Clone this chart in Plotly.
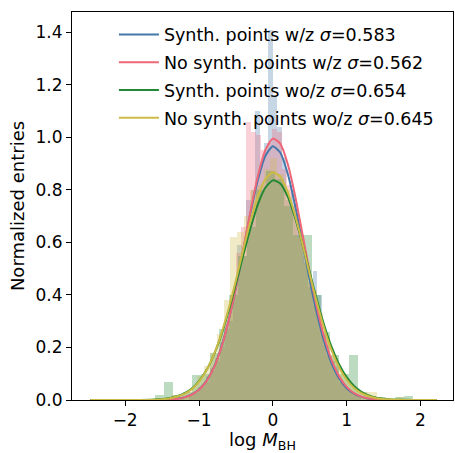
import plotly.graph_objects as go

# ---- histogram data (bin centers, widths, normalized heights) ----
blue_w = 0.06
blue_x = [-1.29, -1.23, -1.17, -1.11, -1.05, -0.99, -0.93, -0.87, -0.81, -0.75, -0.69, -0.63,
          -0.57, -0.51, -0.45, -0.39, -0.33, -0.27, -0.21, -0.15, -0.09, -0.03, 0.03, 0.09,
          0.15, 0.21, 0.27, 0.33, 0.39, 0.45, 0.51, 0.57, 0.63, 0.69, 0.75, 0.81, 0.87, 0.93,
          0.99, 1.05, 1.11, 1.17, 1.23, 1.29]
blue_h = [0.0, 0.008, 0.0, 0.018, 0.025, 0.05, 0.06, 0.09, 0.11, 0.15, 0.22, 0.28,
          0.30, 0.43, 0.59, 0.55, 0.76, 0.80, 1.10, 0.90, 0.98, 1.41, 1.16, 1.04,
          0.92, 0.76, 0.80, 0.70, 0.62, 0.52, 0.43, 0.49, 0.40, 0.25, 0.17, 0.15, 0.13, 0.07,
          0.05, 0.03, 0.02, 0.01, 0.0, 0.006]

red_w = 0.07
red_x = [-1.31, -1.24, -1.17, -1.10, -1.03, -0.96, -0.89, -0.82, -0.75, -0.68, -0.61, -0.54,
         -0.47, -0.40, -0.33, -0.26, -0.19, -0.12, -0.05, 0.02, 0.09, 0.16, 0.23, 0.30,
         0.37, 0.44, 0.51, 0.58, 0.65, 0.72, 0.79, 0.86, 0.93, 1.00, 1.07, 1.14, 1.21, 1.28, 1.35]
red_h = [0.0, 0.007, 0.01, 0.02, 0.03, 0.05, 0.07, 0.12, 0.16, 0.20, 0.30, 0.40,
         0.56, 0.66, 1.06, 1.02, 1.01, 0.95, 0.98, 1.03, 1.02, 0.88, 0.82, 0.74,
         0.64, 0.55, 0.45, 0.36, 0.29, 0.21, 0.15, 0.10, 0.07, 0.05, 0.03, 0.02, 0.01, 0.005, 0.003]

green_w = 0.125
green_x = [-1.910, -1.785, -1.660, -1.535, -1.410, -1.285, -1.160, -1.035, -0.910, -0.785,
           -0.660, -0.535, -0.410, -0.285, -0.160, -0.035, 0.090, 0.215, 0.340, 0.465,
           0.590, 0.715, 0.840, 0.965, 1.090, 1.215, 1.340, 1.465, 1.590, 1.715, 1.840, 1.965]
green_h = [0.0, 0.0, 0.0, 0.02, 0.068, 0.02, 0.03, 0.095, 0.10, 0.18,
           0.27, 0.40, 0.55, 0.66, 0.80, 0.87, 0.84, 0.74, 0.63, 0.63,
           0.40, 0.26, 0.17, 0.10, 0.17, 0.03, 0.015, 0.01, 0.005, 0.01, 0.015, 0.0]

yellow_w = 0.09
yellow_x = [-1.79, -1.70, -1.61, -1.52, -1.43, -1.34, -1.25, -1.16, -1.07, -0.98, -0.89, -0.80,
            -0.71, -0.62, -0.53, -0.44, -0.35, -0.26, -0.17, -0.08, 0.01, 0.10, 0.19, 0.28,
            0.37, 0.46, 0.55, 0.64, 0.73, 0.82, 0.91, 1.00, 1.09, 1.18, 1.27, 1.36, 1.45, 1.54,
            1.63, 1.72, 1.81, 1.90]
yellow_h = [0.0, 0.0, 0.005, 0.005, 0.01, 0.02, 0.02, 0.03, 0.05, 0.09, 0.13, 0.18,
            0.25, 0.38, 0.62, 0.64, 0.70, 0.80, 0.82, 0.88, 0.92, 0.86, 0.80, 0.72,
            0.62, 0.52, 0.42, 0.33, 0.24, 0.17, 0.12, 0.08, 0.05, 0.035, 0.03, 0.03, 0.01, 0.005,
            0.005, 0.01, 0.0, 0.0]

# ---- fitted curves (sampled) ----
curve_x = [-2.47, -2.2, -2.0, -1.8, -1.6, -1.4, -1.3, -1.2, -1.1, -1.0, -0.9, -0.8, -0.7, -0.6,
           -0.5, -0.4, -0.3, -0.2, -0.1, 0.0, 0.1, 0.2, 0.3, 0.4, 0.5, 0.6, 0.7, 0.8, 0.9,
           1.0, 1.1, 1.2, 1.3, 1.4, 1.6, 1.8, 2.0, 2.22]
blue_fit = [0, 0, 0, 0, 0.0003, 0.002, 0.005, 0.010, 0.021, 0.040, 0.073, 0.124, 0.200, 0.302,
            0.429, 0.571, 0.716, 0.841, 0.930, 0.966, 0.942, 0.863, 0.743, 0.601, 0.456, 0.326,
            0.218, 0.137, 0.081, 0.045, 0.024, 0.012, 0.005, 0.002, 0.0004, 0, 0, 0]
red_fit = [0, 0, 0, 0, 0.0003, 0.002, 0.004, 0.010, 0.020, 0.039, 0.071, 0.122, 0.197, 0.300,
           0.428, 0.574, 0.723, 0.856, 0.952, 0.995, 0.976, 0.900, 0.780, 0.634, 0.485, 0.348,
           0.235, 0.149, 0.089, 0.050, 0.026, 0.013, 0.006, 0.003, 0.0004, 0, 0, 0]
green_fit = [0, 0, 0, 0.0003, 0.002, 0.007, 0.014, 0.025, 0.043, 0.072, 0.113, 0.171, 0.246, 0.338,
             0.442, 0.552, 0.657, 0.747, 0.809, 0.836, 0.824, 0.775, 0.695, 0.595, 0.486, 0.378,
             0.281, 0.199, 0.134, 0.087, 0.053, 0.031, 0.017, 0.009, 0.002, 0.0005, 0, 0]
yellow_fit = [0, 0, 0, 0.0003, 0.001, 0.006, 0.013, 0.023, 0.041, 0.070, 0.112, 0.172, 0.250, 0.346,
              0.456, 0.573, 0.684, 0.777, 0.841, 0.867, 0.850, 0.793, 0.704, 0.596, 0.479, 0.367,
              0.268, 0.186, 0.123, 0.077, 0.046, 0.026, 0.014, 0.007, 0.002, 0.0004, 0, 0]

labels = ["Synth. points w/z <i>σ</i>=0.583",
          "No synth. points w/z <i>σ</i>=0.562",
          "Synth. points wo/z <i>σ</i>=0.654",
          "No synth. points wo/z <i>σ</i>=0.645"]
colors = ["#4477AA", "#EE6677", "#228833", "#CCBB44"]
fills = ["rgba(68,119,170,0.3)", "rgba(238,102,119,0.3)", "rgba(34,136,51,0.3)", "rgba(204,187,68,0.3)"]

hists = [(blue_x, blue_h, blue_w), (red_x, red_h, red_w), (green_x, green_h, green_w), (yellow_x, yellow_h, yellow_w)]
fits = [blue_fit, red_fit, green_fit, yellow_fit]

fig = go.Figure()
for (hx, hh, hw), fc in zip(hists, fills):
    fig.add_trace(go.Bar(x=hx, y=hh, width=hw, marker=dict(color=fc, line=dict(width=0)),
                         showlegend=False, hoverinfo="skip"))
for i, (fy, c, lab) in enumerate(zip(fits, colors, labels)):
    fig.add_trace(go.Scatter(x=curve_x, y=fy, mode="lines", name=lab,
                             line=dict(color=c, width=2, shape="spline", smoothing=0.6),
                             legendgroup=f"g{i}"))

font = "DejaVu Sans"
fig.update_layout(
    width=455, height=453,
    margin=dict(l=72, r=1, t=12, b=51),
    paper_bgcolor="white", plot_bgcolor="white",
    barmode="overlay", bargap=0,
    font=dict(family=font, size=17, color="black"),
    legend=dict(x=0.11, y=0.988, xanchor="left", yanchor="top",
                bgcolor="rgba(0,0,0,0)", borderwidth=0,
                font=dict(family=font, size=17.5, color="black"),
                tracegroupgap=2, itemwidth=40),
    xaxis=dict(range=[-2.72, 2.44], showgrid=False, zeroline=False,
               showline=True, linecolor="black", linewidth=1.1, mirror=True,
               ticks="outside", ticklen=5, tickwidth=1.1, tickcolor="black",
               tickvals=[-2, -1, 0, 1, 2], ticktext=["−2", "−1", "0", "1", "2"],
               tickfont=dict(family=font, size=17),
               title=dict(text="log <i>M</i><sub>BH</sub>", font=dict(family=font, size=18), standoff=9)),
    yaxis=dict(range=[0, 1.477], showgrid=False, zeroline=False,
               showline=True, linecolor="black", linewidth=1.1, mirror=True,
               ticks="outside", ticklen=5, tickwidth=1.1, tickcolor="black",
               tickvals=[0, 0.2, 0.4, 0.6, 0.8, 1.0, 1.2, 1.4], tickformat=".1f",
               tickfont=dict(family=font, size=17),
               title=dict(text="Normalized entries", font=dict(family=font, size=18), standoff=6)),
)
fig.write_html("out.html")
